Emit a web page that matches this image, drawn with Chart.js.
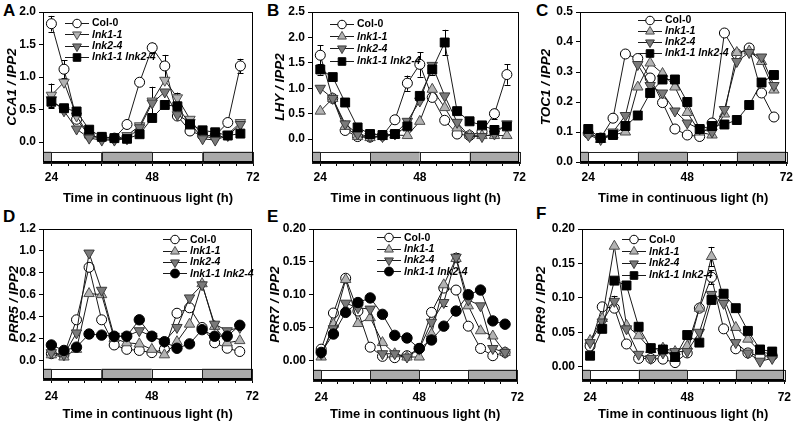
<!DOCTYPE html>
<html><head><meta charset="utf-8">
<script src="https://cdn.jsdelivr.net/npm/chart.js@4.4.0/dist/chart.umd.min.js"></script>
<style>
body{margin:0;background:#fff;width:797px;height:423px;position:relative;overflow:hidden;font-family:"Liberation Sans",Arial,sans-serif;}
canvas{position:absolute;}
.lbl{position:absolute;font:bold 17px "Liberation Sans",Arial,sans-serif;color:#000;line-height:17px;}
</style></head><body>
<div class="lbl" style="left:3px;top:2px">A</div>
<div class="lbl" style="left:267px;top:2px">B</div>
<div class="lbl" style="left:536px;top:2px">C</div>
<div class="lbl" style="left:3px;top:208px">D</div>
<div class="lbl" style="left:267px;top:208px">E</div>
<div class="lbl" style="left:536px;top:205px">F</div>
<canvas id="cA" width="265" height="207" style="left:0;top:0"></canvas>
<canvas id="cB" width="265" height="207" style="left:265px;top:0"></canvas>
<canvas id="cC" width="267" height="207" style="left:530px;top:0"></canvas>
<canvas id="cD" width="265" height="218" style="left:0;top:205px"></canvas>
<canvas id="cE" width="265" height="218" style="left:265px;top:205px"></canvas>
<canvas id="cF" width="267" height="218" style="left:530px;top:205px"></canvas>
<script>
// ---------- data ----------
const hours = [24,27,30,33,36,39,42,45,48,51,54,57,60,63,66,69];
const xTicks = [24,28,32,36,40,44,48,52,56,60,64,68,72];
const xTickLabels = [24,48,72];
const lightEdges = [22,24,36,48,60,72];
const lightStates = ['dark','light','dark','light','dark'];
const seriesNames = ['Col-0','lnk1-1','lnk2-4','lnk1-1 lnk2-4'];

// A  CCA1
const cca1Ticks = [0,0.5,1.0,1.5,2.0];
const cca1Col   = [1.82,1.12,0.35,0.10,0.07,0.06,0.27,0.92,1.45,1.17,0.40,0.17,0.10,0.10,0.30,1.17];
const cca1Lnk11 = [0.72,0.92,0.40,0.10,0.05,0.04,0.10,0.25,0.63,0.95,0.68,0.35,0.10,0.05,0.12,0.30];
const cca1Lnk24 = [0.65,0.48,0.20,0.06,0.03,0.03,0.05,0.22,0.60,0.77,0.42,0.30,0.05,0.03,0.10,0.27];
const cca1Dbl   = [0.62,0.52,0.47,0.19,0.08,0.06,0.05,0.12,0.37,0.57,0.55,0.27,0.18,0.15,0.10,0.13];
const cca1ColErr   = [0.12,0.14,0,0,0,0,0,0,0.08,0.17,0,0,0,0,0,0.11];
const cca1Lnk11Err = [0.18,0,0,0,0,0,0,0,0.22,0,0.08,0,0,0,0,0];
const cca1DblErr   = [0.10,0,0,0,0,0,0,0,0,0,0,0,0,0,0,0];

// B  LHY
const lhyTicks = [0,0.5,1.0,1.5,2.0,2.5];
const lhyCol   = [1.65,0.80,0.17,0.05,0.04,0.07,0.38,1.10,1.47,0.82,0.37,0.10,0.07,0.15,0.50,1.27];
const lhyLnk11 = [0.55,0.80,0.25,0.05,0.03,0.05,0.08,0.07,0.35,0.98,0.62,0.22,0.08,0.07,0.07,0.07];
const lhyLnk24 = [1.00,0.80,0.30,0.10,0.05,0.05,0.10,0.35,0.75,1.45,0.85,0.33,0.05,0.05,0.10,0.30];
const lhyDbl   = [1.37,1.22,0.72,0.23,0.10,0.08,0.10,0.25,0.85,1.37,1.90,0.55,0.35,0.27,0.18,0.25];
const lhyColErr = [0.20,0,0,0,0,0,0,0.15,0.24,0,0,0,0,0,0.10,0.20];
const lhyDblErr = [0.10,0,0,0,0,0,0,0,0,0.10,0.25,0,0,0,0,0];

// C  TOC1
const toc1Ticks = [0,0.1,0.2,0.3,0.4,0.5];
const toc1Col   = [0.096,0.080,0.146,0.360,0.345,0.280,0.198,0.110,0.090,0.085,0.130,0.430,0.360,0.380,0.230,0.150];
const toc1Lnk11 = [0.100,0.075,0.090,0.100,0.250,0.330,0.295,0.250,0.165,0.100,0.090,0.160,0.365,0.370,0.335,0.240];
const toc1Lnk24 = [0.090,0.075,0.100,0.155,0.325,0.255,0.230,0.170,0.130,0.110,0.100,0.175,0.335,0.365,0.350,0.255];
const toc1Dbl   = [0.110,0.080,0.090,0.120,0.155,0.230,0.275,0.275,0.200,0.110,0.120,0.125,0.140,0.190,0.265,0.290];

// D  PRR5
const prr5Ticks = [0,0.2,0.4,0.6,0.8,1.0,1.2];
const prr5Col   = [0.06,0.05,0.37,0.85,0.37,0.14,0.10,0.09,0.07,0.10,0.43,0.48,0.30,0.16,0.11,0.08];
const prr5Lnk11 = [0.05,0.03,0.10,0.61,0.60,0.20,0.16,0.15,0.10,0.05,0.17,0.33,0.70,0.31,0.16,0.18];
const prr5Lnk24 = [0.07,0.05,0.25,0.98,0.64,0.22,0.22,0.27,0.22,0.17,0.30,0.57,0.69,0.33,0.27,0.30];
const prr5Dbl   = [0.14,0.09,0.12,0.24,0.23,0.22,0.22,0.37,0.22,0.17,0.11,0.15,0.28,0.22,0.22,0.32];

// E  PRR7
const prr7Ticks = [0,0.05,0.10,0.15,0.20];
const prr7Col   = [0.017,0.072,0.125,0.075,0.020,0.006,0.004,0.007,0.018,0.073,0.110,0.107,0.052,0.018,0.007,0.012];
const prr7Lnk11 = [0.005,0.055,0.123,0.056,0.065,0.027,0.010,0.005,0.005,0.040,0.115,0.155,0.083,0.045,0.037,0.012];
const prr7Lnk24 = [0.010,0.048,0.087,0.080,0.078,0.010,0.010,0.005,0.017,0.058,0.088,0.157,0.092,0.083,0.018,0.012];
const prr7Dbl   = [0.012,0.040,0.073,0.088,0.095,0.070,0.038,0.034,0.018,0.031,0.052,0.075,0.100,0.107,0.060,0.055];
const prr7Lnk24Err = [0,0,0,0.007,0,0,0,0,0,0,0.006,0.007,0,0,0,0];

// F  PRR9
const prr9Ticks = [0,0.05,0.10,0.15,0.20];
const prr9Col   = [0.030,0.087,0.085,0.033,0.012,0.012,0.011,0.006,0.020,0.085,0.130,0.055,0.026,0.020,0.015,0.016];
const prr9Lnk11 = [0.038,0.070,0.175,0.060,0.045,0.025,0.027,0.022,0.030,0.085,0.160,0.100,0.057,0.040,0.022,0.018];
const prr9Lnk24 = [0.035,0.065,0.095,0.055,0.018,0.012,0.020,0.022,0.022,0.050,0.105,0.092,0.035,0.020,0.008,0.012];
const prr9Dbl   = [0.016,0.055,0.125,0.118,0.058,0.027,0.025,0.014,0.046,0.035,0.097,0.106,0.085,0.052,0.025,0.022];
const prr9ColErr   = [0,0,0,0,0,0,0,0,0,0,0.010,0,0,0,0,0];
const prr9Lnk11Err = [0,0,0,0,0,0,0,0,0,0,0.014,0,0,0,0,0];
const prr9Lnk24Err = [0,0,0.008,0,0,0,0,0,0,0,0,0,0,0,0,0];

// ---------- styling / layout ----------
const FONT = '"Liberation Sans", Arial, sans-serif';
const panels = [
  {id:'cA', gene:'CCA1', ticks:cca1Ticks, min:-0.307, max:2.0, dec:1,
   series:[cca1Col,cca1Lnk11,cca1Lnk24,cca1Dbl], errs:[cca1ColErr,cca1Lnk11Err,null,cca1DblErr],
   tri1Down:true, dblShape:'rect', yw:43, pt:12, pr:12, xh:45, tpad:4, ytp:3.9,
   leg:{x:65, y:23, dy:11.3}},
  {id:'cB', gene:'LHY', ticks:lhyTicks, min:-0.45, max:2.5, dec:1,
   series:[lhyCol,lhyLnk11,lhyLnk24,lhyDbl], errs:[lhyColErr,null,null,lhyDblErr],
   tri1Down:false, dblShape:'rect', yw:47, pt:12, pr:9, xh:45, tpad:4, ytp:7.5,
   leg:{x:65, y:24, dy:12.2}},
  {id:'cC', gene:'TOC1', ticks:toc1Ticks, min:0, max:0.5, dec:1,
   series:[toc1Col,toc1Lnk11,toc1Lnk24,toc1Dbl], errs:[null,null,null,null],
   tri1Down:false, dblShape:'rect', yw:50, pt:12, pr:8, xh:45, tpad:4, ytp:7.9,
   leg:{x:108, y:19.5, dy:11.2}},
  {id:'cD', gene:'PRR5', ticks:prr5Ticks, min:-0.171, max:1.2, dec:1,
   series:[prr5Col,prr5Lnk11,prr5Lnk24,prr5Dbl], errs:[null,null,null,null],
   tri1Down:false, dblShape:'circle', yw:43, pt:24, pr:12, xh:44, tpad:6, ytp:6,
   leg:{x:163, y:34.3, dy:11.3}},
  {id:'cE', gene:'PRR7', ticks:prr7Ticks, min:-0.03, max:0.2, dec:2,
   series:[prr7Col,prr7Lnk11,prr7Lnk24,prr7Dbl], errs:[null,null,prr7Lnk24Err,null],
   tri1Down:false, dblShape:'circle', yw:48, pt:24, pr:9, xh:43, tpad:6, ytp:2.4,
   leg:{x:112, y:32.3, dy:11.3}},
  {id:'cF', gene:'PRR9', ticks:prr9Ticks, min:-0.0193, max:0.2, dec:2,
   series:[prr9Col,prr9Lnk11,prr9Lnk24,prr9Dbl], errs:[prr9ColErr,prr9Lnk11Err,prr9Lnk24Err,null],
   tri1Down:false, dblShape:'rect', yw:52, pt:24, pr:8, xh:43, tpad:6, ytp:3.6,
   leg:{x:92, y:34.3, dy:11.9}}
];

function markerStyle(p, i){
  if(i===0) return {style:'circle', rot:0, r:5, fill:'#ffffff', stroke:'#000000'};
  if(i===1) return {style:'triangle', rot:p.tri1Down?180:0, r:6, fill:'#b3b3b3', stroke:'#4d4d4d'};
  if(i===2) return {style:'triangle', rot:180, r:6, fill:'#7a7a7a', stroke:'#3a3a3a'};
  return p.dblShape==='rect' ? {style:'rect', rot:0, r:6.3, fill:'#000000', stroke:'#000000'}
                             : {style:'circle', rot:0, r:5.2, fill:'#000000', stroke:'#000000'};
}

function drawMarker(ctx, m, x, y, scale){
  const r = m.r*scale;
  ctx.beginPath();
  if(m.style==='circle'){ ctx.arc(x,y,r,0,Math.PI*2); }
  else if(m.style==='rect'){ const s=Math.SQRT1_2*r; ctx.rect(x-s,y-s,2*s,2*s); }
  else { let a=m.rot*Math.PI/180;
    ctx.moveTo(x+Math.sin(a)*r, y-Math.cos(a)*r); a+=2*Math.PI/3;
    ctx.lineTo(x+Math.sin(a)*r, y-Math.cos(a)*r); a+=2*Math.PI/3;
    ctx.lineTo(x+Math.sin(a)*r, y-Math.cos(a)*r); ctx.closePath(); }
  ctx.fillStyle=m.fill; ctx.strokeStyle=m.stroke; ctx.lineWidth=1;
  ctx.fill(); ctx.stroke();
}

const lightBarPlugin = {
  id:'lightBar',
  beforeDatasetsDraw(chart){
    const {ctx, chartArea:a, scales:{x}} = chart;
    const h = 10.5;
    ctx.save();
    for(let i=0;i<lightStates.length;i++){
      const x0 = x.getPixelForValue(lightEdges[i]), x1 = x.getPixelForValue(lightEdges[i+1]);
      ctx.fillStyle = lightStates[i]==='dark' ? '#a9a9a9' : '#ffffff';
      ctx.fillRect(x0, a.bottom-h, x1-x0, h);
      ctx.strokeStyle='#222'; ctx.lineWidth=1;
      ctx.strokeRect(Math.round(x0)+0.5, Math.round(a.bottom-h)+0.5, Math.round(x1-x0), Math.round(h));
    }
    ctx.restore();
  }
};

const errorBarPlugin = {
  id:'errorBars',
  beforeDatasetsDraw(chart){
    const {ctx, scales:{x,y}} = chart;
    ctx.save(); ctx.strokeStyle='#000'; ctx.lineWidth=1;
    chart.data.datasets.forEach(ds=>{
      if(!ds.err) return;
      ds.data.forEach((pt,i)=>{
        const e = ds.err[i]; if(!e) return;
        const px = Math.round(x.getPixelForValue(pt.x))+0.5;
        const yt = y.getPixelForValue(pt.y+e), yb = y.getPixelForValue(pt.y-e);
        ctx.beginPath(); ctx.moveTo(px,yt); ctx.lineTo(px,yb);
        ctx.moveTo(px-3,Math.round(yt)+0.5); ctx.lineTo(px+3,Math.round(yt)+0.5);
        ctx.moveTo(px-3,Math.round(yb)+0.5); ctx.lineTo(px+3,Math.round(yb)+0.5);
        ctx.stroke();
      });
    });
    ctx.restore();
  }
};

const framePlugin = {
  id:'frame',
  afterDatasetsDraw(chart){
    const {ctx, chartArea:a} = chart;
    ctx.save(); ctx.strokeStyle='#000'; ctx.lineWidth=1;
    ctx.strokeRect(Math.round(a.left)+0.5, Math.round(a.top)+0.5, Math.round(a.right-a.left)-1, Math.round(a.bottom-a.top)-1);
    ctx.restore();
  }
};

const legendPlugin = {
  id:'seriesLegend',
  afterDraw(chart, args, opts){
    const {ctx} = chart; const p = opts.panel;
    ctx.save();
    seriesNames.forEach((name,i)=>{
      const y = p.leg.y + i*p.leg.dy;
      const x0 = p.leg.x;
      ctx.strokeStyle='#1a1a1a'; ctx.lineWidth=1;
      ctx.beginPath(); ctx.moveTo(x0, Math.round(y)+0.5); ctx.lineTo(x0+24, Math.round(y)+0.5); ctx.stroke();
      drawMarker(ctx, markerStyle(p,i), x0+12, Math.round(y)+0.5, 0.85);
      ctx.fillStyle='#000';
      ctx.font = (i===0 ? 'bold ' : 'italic bold ') + '10.5px ' + FONT;
      ctx.textBaseline='middle'; ctx.textAlign='left';
      ctx.fillText(name, x0+27, y+0.5);
    });
    ctx.restore();
  }
};

panels.forEach(p=>{
  const datasets = p.series.map((vals,i)=>{
    const m = markerStyle(p,i);
    return {
      label: seriesNames[i],
      data: hours.map((h,k)=>({x:h, y:vals[k]})),
      err: p.errs[i],
      borderColor:'#1a1a1a', borderWidth:1, tension:0, fill:false,
      pointStyle: m.style, pointRotation: m.rot, pointRadius: m.r,
      pointBackgroundColor: m.fill, pointBorderColor: m.stroke, pointBorderWidth:1,
      order: 4-i
    };
  });
  new Chart(document.getElementById(p.id), {
    type:'line',
    data:{datasets},
    plugins:[lightBarPlugin, errorBarPlugin, framePlugin, legendPlugin],
    options:{
      responsive:false, animation:false, devicePixelRatio:1,
      layout:{padding:{left:0, top:p.pt, right:p.pr, bottom:0}},
      plugins:{legend:{display:false}, tooltip:{enabled:false}, seriesLegend:{panel:p}},
      scales:{
        x:{type:'linear', min:22, max:72,
           afterBuildTicks: s=>{ s.ticks = xTicks.map(v=>({value:v})); },
           afterFit: s=>{ s.height = p.xh; },
           ticks:{autoSkip:false, maxRotation:0, padding:p.tpad, color:'#000',
                  font:{family:FONT, size:12, weight:'bold'},
                  callback: v => xTickLabels.includes(v) ? String(v) : ''},
           grid:{drawOnChartArea:false, drawTicks:true, tickLength:4, color:'#000'},
           border:{color:'#000', width:1},
           title:{display:true, text:'Time in continuous light (h)', color:'#000',
                  font:{family:FONT, size:13, weight:'bold'}, padding:{top:0, bottom:0.9}}},
        y:{type:'linear', min:p.min, max:p.max,
           afterBuildTicks: s=>{ s.ticks = p.ticks.map(v=>({value:v})); },
           afterFit: s=>{ s.width = p.yw; },
           ticks:{padding:3, color:'#000', font:{family:FONT, size:12, weight:'bold'},
                  callback: v => Number(v).toFixed(p.dec)},
           grid:{drawOnChartArea:false, drawTicks:true, tickLength:4, color:'#000'},
           border:{color:'#000', width:1},
           title:{display:true, text:p.gene+' / IPP2', color:'#000',
                  font:{family:FONT, size:13.5, weight:'bold', style:'italic'}, padding:{top:p.ytp, bottom:0}}}
      }
    }
  });
});
</script>
</body></html>
